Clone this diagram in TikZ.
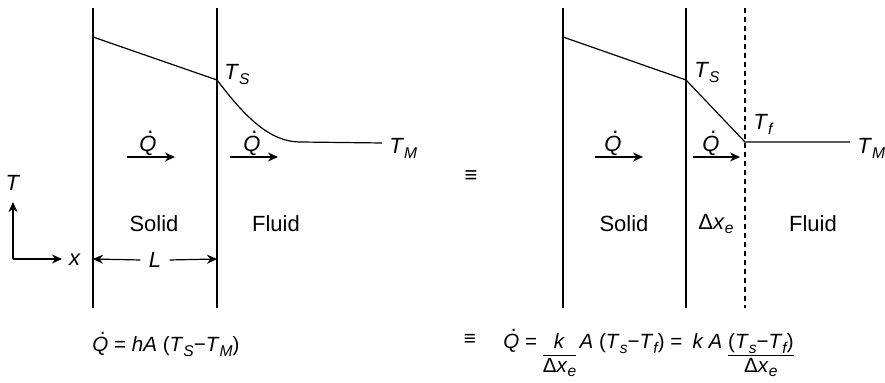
\documentclass[tikz,border=0pt]{standalone}
\usepackage{fontspec}
\setmainfont{Liberation Sans}
\usetikzlibrary{arrows.meta}
\newcommand\qdot{\makebox[0pt][l]{\hspace{0.36em}\raisebox{0.86em}{\upshape.}}\textit{Q}}
\newcommand\sub[1]{\raisebox{-2.2pt}{\fontsize{7.8}{8}\selectfont\itshape #1}}
\newcommand\lowfrac[2]{\begin{tabular}[t]{@{}c@{}}#1\\[-0.6pt]\hline #2\end{tabular}}

\begin{document}
\begin{tikzpicture}[x=0.5pt,y=-0.5pt,
    wall/.style={line width=0.8pt},
    prof/.style={line width=0.6pt},
    flow/.style={line width=0.6pt,-{Stealth[length=5pt,width=4.5pt]}},
    lbl/.style={font=\fontsize{11}{13}\selectfont,inner sep=0pt},
    law/.style={font=\fontsize{10.3}{12}\selectfont,inner sep=0pt}]
  \useasboundingbox (0,0) rectangle (885,383);
  % left: solid and fluid
  \coordinate (w1t) at (93,8);   \coordinate (w1b) at (93,308);
  \coordinate (w2t) at (217,8);  \coordinate (w2b) at (217,308);
  \draw[wall] (w1t) -- (w1b);
  \draw[wall] (w2t) -- (w2b);
  \coordinate (p0) at (93,37);
  \coordinate (ts) at (217,80);
  \coordinate (p1) at (300,142);
  \coordinate (tm) at (382,143);
  \draw[prof] (p0) -- (ts) .. controls (245,117) and (270,142) .. (p1) -- (tm);
  \node[lbl,anchor=base west] (tsl) at (224,80) {\textit{T}\sub{S}};
  \node[lbl,anchor=base west] (tml) at (389,154) {\textit{T}\sub{M}};
  \node[lbl,anchor=base] (q1) at (148,152) {\qdot};
  \node[lbl,anchor=base] (q2) at (252,152) {\qdot};
  \coordinate (a1) at (127,157); \coordinate (b1) at (175,157);
  \coordinate (a2) at (230,157); \coordinate (b2) at (278,157);
  \draw[flow] (a1) -- (b1);
  \draw[flow] (a2) -- (b2);
  \node[lbl] (sol1) at (154,224) {Solid};
  \node[lbl] (flu1) at (276,224) {Fluid};
  % axes and thickness
  \coordinate (o) at (13,259);
  \coordinate (oy) at (13,202);
  \coordinate (ox) at (62,259);
  \draw[flow] (o) -- (oy);
  \draw[flow] (o) -- (ox);
  \node[lbl] (tax) at (13,183) {\textit{T}};
  \node[lbl] (xax) at (75,260) {\textit{x}};
  \node[lbl,inner xsep=4pt] (len) at (155,260) {\textit{L}};
  \coordinate (la) at (93,259); \coordinate (lb) at (217,259);
  \draw[flow] (len.west) -- (la);
  \draw[flow] (len.east) -- (lb);
  \node[lbl] (eq1) at (471,177) {≡};
  % right: equivalent film
  \coordinate (w3t) at (563,8);  \coordinate (w3b) at (563,308);
  \coordinate (w4t) at (686,8);  \coordinate (w4b) at (686,308);
  \coordinate (w5t) at (745,8);  \coordinate (w5b) at (745,308);
  \draw[wall] (w3t) -- (w3b);
  \draw[wall] (w4t) -- (w4b);
  \draw[prof,dash pattern=on 2.5pt off 2pt] (w5t) -- (w5b);
  \coordinate (r0) at (563,37);
  \coordinate (rs) at (686,80);
  \coordinate (rf) at (745,142);
  \coordinate (rm) at (850,142);
  \draw[prof] (r0) -- (rs) -- (rf) -- (rm);
  \node[lbl,anchor=base west] (tsr) at (694,78) {\textit{T}\sub{S}};
  \node[lbl,anchor=base west] (tfr) at (753,130) {\textit{T}\sub{f}};
  \node[lbl,anchor=base west] (tmr) at (857,154) {\textit{T}\sub{M}};
  \node[lbl,anchor=base] (q3) at (613,152) {\qdot};
  \node[lbl,anchor=base] (q4) at (711,152) {\qdot};
  \coordinate (a3) at (595,157); \coordinate (b3) at (643,157);
  \coordinate (a4) at (693,157); \coordinate (b4) at (740,157);
  \draw[flow] (a3) -- (b3);
  \draw[flow] (a4) -- (b4);
  \node[lbl] (sol2) at (624,224) {Solid};
  \node[lbl] (dxe) at (716,224) {Δ\textit{x}\sub{e}};
  \node[lbl] (flu2) at (813,224) {Fluid};
  % equations
  \node[law,anchor=base west] (law1) at (92,352)
    {\qdot{} = \textit{hA} (\textit{T}\sub{S}−\textit{T}\sub{M})};
  \node[law] (eq2) at (470,340) {≡};
  \node[law,anchor=base west] (law2) at (503,349)
    {\qdot{} = \lowfrac{\textit{k}}{Δ\textit{x}\sub{e}}\,\textit{A} (\textit{T}\sub{s}−\textit{T}\sub{f}) =\enspace
     \textit{k A} \lowfrac{(\textit{T}\sub{s}−\textit{T}\sub{f})}{Δ\textit{x}\sub{e}}};
\end{tikzpicture}
\end{document}
